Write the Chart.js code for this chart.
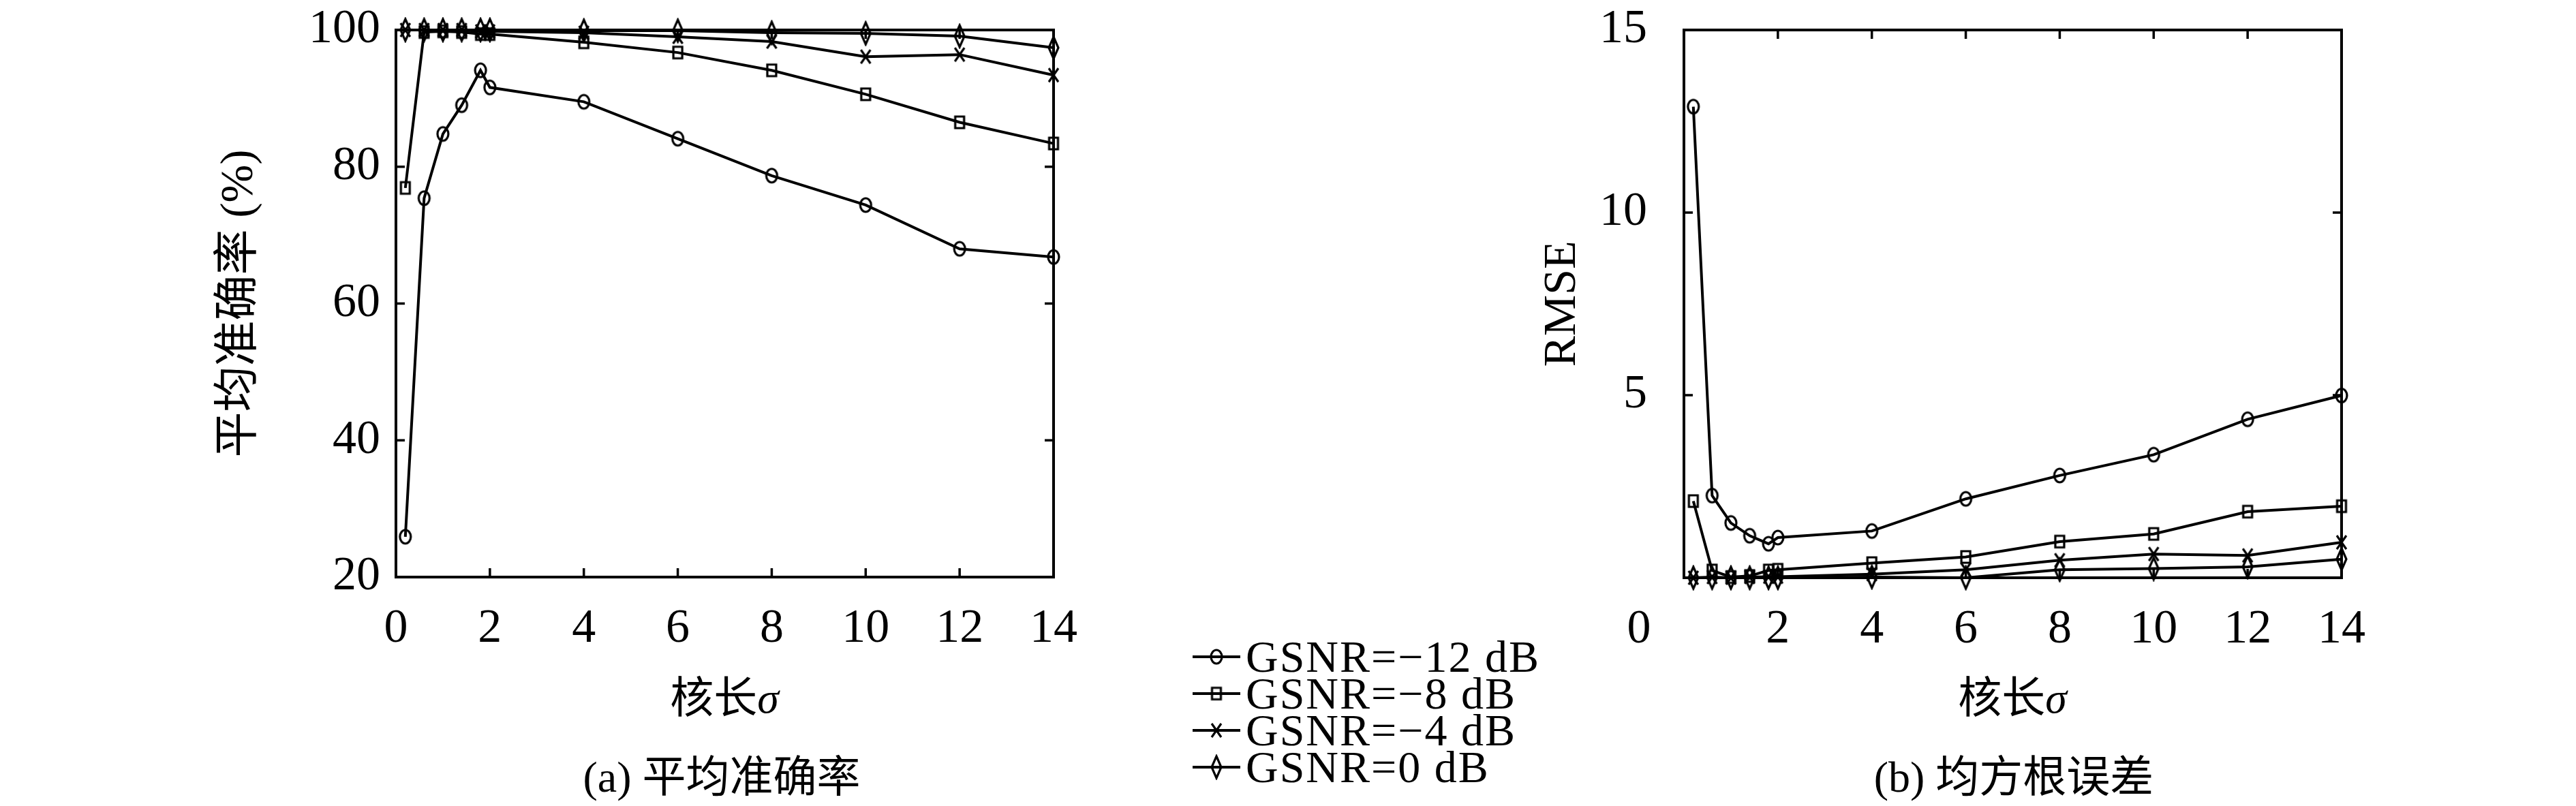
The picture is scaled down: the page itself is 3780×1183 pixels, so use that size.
<!DOCTYPE html>
<html lang="zh">
<head>
<meta charset="utf-8">
<title>核长σ：平均准确率与均方根误差</title>
<script src="https://cdn.jsdelivr.net/npm/chart.js@4.4.1/dist/chart.umd.min.js"></script>
<style>
  html, body { margin: 0; padding: 0; background: #fff; }
  body { width: 3780px; height: 1183px; position: relative; overflow: hidden; }
  canvas.plot { position: absolute; top: 0; }
  #accChart { left: 0; }
  #rmseChart { left: 2240px; }
  .cap { position: absolute; font-family: "Liberation Serif", "Noto Sans CJK SC", serif; font-size: 64px; line-height: 64px; color: #000; white-space: nowrap; transform: translateX(-50%); }
  .cap i { font-family: "Liberation Serif", serif; }
  #legend { position: absolute; left: 1750px; top: 937px; font-family: "Liberation Serif", serif; font-size: 66px; letter-spacing: 2px; color: #000; }
  .row { display: flex; align-items: center; height: 54px; line-height: 54px; white-space: nowrap; }
  .row canvas { margin-right: 8px; }
</style>
</head>
<body>
<canvas id="accChart" class="plot" width="1700" height="960"></canvas>
<canvas id="rmseChart" class="plot" width="1360" height="960"></canvas>
<div class="cap" style="left:1063px; top:993px">核长<i>σ</i></div>
<div class="cap" style="left:1059px; top:1109px">(a) 平均准确率</div>
<div class="cap" style="left:2953px; top:993px">核长<i>σ</i></div>
<div class="cap" style="left:2955px; top:1109px">(b) 均方根误差</div>
<div id="legend"></div>
<script>
// 核长 σ
const sigma = [0.2, 0.6, 1.0, 1.4, 1.8, 2, 4, 6, 8, 10, 12, 14];
const seriesNames = ['GSNR=−12 dB', 'GSNR=−8 dB', 'GSNR=−4 dB', 'GSNR=0 dB'];

// (a) 平均准确率 (%)
const accM12 = [25.9, 75.4, 84.8, 89.0, 94.1, 91.6, 89.5, 84.1, 78.7, 74.4, 68.0, 66.8];
const accM8 = [76.9, 99.7, 99.8, 99.7, 99.4, 99.4, 98.2, 96.7, 94.1, 90.6, 86.5, 83.4];
const accM4 = [100, 100, 100, 100, 99.8, 99.8, 99.6, 99.0, 98.3, 96.1, 96.4, 93.4];
const acc0 = [100, 100, 100, 100, 100, 100, 99.9, 99.9, 99.6, 99.5, 99.1, 97.4];

// (b) 均方根误差
const rmseM12 = [12.9, 2.25, 1.5, 1.15, 0.93, 1.1, 1.28, 2.16, 2.8, 3.37, 4.34, 4.99];
const rmseM8 = [2.1, 0.2, 0.02, 0.05, 0.2, 0.22, 0.4, 0.57, 0.99, 1.2, 1.81, 1.96];
const rmseM4 = [0.0, 0.02, 0.0, 0.02, 0.03, 0.03, 0.1, 0.22, 0.48, 0.65, 0.61, 0.97];
const rmse0 = [0.0, 0.0, 0.0, 0.0, 0.0, 0.0, 0.02, 0.0, 0.22, 0.25, 0.3, 0.51];

// 刻度
const xTicks = [0, 2, 4, 6, 8, 10, 12, 14];
const accTicks = [20, 40, 60, 80, 100];
const rmseTicks = [0, 5, 10, 15];

const serif = '"Liberation Serif", serif';
const mixed = '"Liberation Serif", "Noto Sans CJK SC", serif';
const tickFont = { family: serif, size: 70 };
const tickLen = 13;

// 标记形状 (空心)
function makeMarker(kind) {
    const sizes = { circle: [16, 20], square: [13, 17], cross: [14, 20], diamond: [14, 32] };
    const [w, h] = sizes[kind];
    const c = document.createElement('canvas');
    c.width = w + 6;
    c.height = h + 6;
    const g = c.getContext('2d');
    const cx = c.width / 2, cy = c.height / 2;
    g.strokeStyle = '#000';
    g.lineWidth = 3.2;
    g.beginPath();
    if (kind === 'circle') {
        g.ellipse(cx, cy, w / 2, h / 2, 0, 0, Math.PI * 2);
    } else if (kind === 'square') {
        g.rect(cx - w / 2, cy - h / 2, w, h);
    } else if (kind === 'cross') {
        g.moveTo(cx - w / 2, cy - h / 2); g.lineTo(cx + w / 2, cy + h / 2);
        g.moveTo(cx + w / 2, cy - h / 2); g.lineTo(cx - w / 2, cy + h / 2);
    } else {
        g.moveTo(cx, cy - h / 2); g.lineTo(cx + w / 2, cy);
        g.lineTo(cx, cy + h / 2); g.lineTo(cx - w / 2, cy);
        g.closePath();
    }
    g.stroke();
    return c;
}
const markers = ['circle', 'square', 'cross', 'diamond'].map(makeMarker);

function buildDatasets(seriesList) {
    return seriesList.map((vals, i) => ({
        label: seriesNames[i],
        data: sigma.map((s, j) => ({ x: s, y: vals[j] })),
        borderColor: '#000',
        borderWidth: 4,
        pointStyle: markers[i],
        pointRadius: 10,
        tension: 0,
        fill: false,
        clip: false
    }));
}

// 边框和向内的刻度线
const framePlugin = {
    id: 'frame',
    beforeDatasetsDraw(chart) {
        const { ctx, chartArea: a, scales: { x, y } } = chart;
        ctx.save();
        ctx.strokeStyle = '#000';
        ctx.lineWidth = 4;
        ctx.strokeRect(a.left, a.top, a.right - a.left, a.bottom - a.top);
        ctx.lineWidth = 3.5;
        ctx.beginPath();
        x.ticks.forEach(t => {
            if (t.value <= x.min || t.value >= x.max) return;
            const px = x.getPixelForValue(t.value);
            ctx.moveTo(px, a.bottom); ctx.lineTo(px, a.bottom - tickLen);
            ctx.moveTo(px, a.top); ctx.lineTo(px, a.top + tickLen);
        });
        y.ticks.forEach(t => {
            if (t.value <= y.min || t.value >= y.max) return;
            const py = y.getPixelForValue(t.value);
            ctx.moveTo(a.left, py); ctx.lineTo(a.left + tickLen, py);
            ctx.moveTo(a.right, py); ctx.lineTo(a.right - tickLen, py);
        });
        ctx.stroke();
        ctx.restore();
    }
};

// 右图的 "0" 画在坐标轴左下方
const zeroShift = 66;
const zeroLabelPlugin = {
    id: 'zeroLabel',
    afterDraw(chart) {
        const { ctx, scales: { x } } = chart;
        const lh = tickFont.size * 1.2;
        ctx.save();
        ctx.fillStyle = '#000';
        ctx.font = `${tickFont.size}px ${serif}`;
        ctx.textAlign = 'center';
        ctx.textBaseline = 'middle';
        ctx.fillText('0', x.getPixelForValue(0) - zeroShift, x.top + x.options.ticks.padding + lh / 2);
        ctx.restore();
    }
};

function makeOptions(cfg) {
    return {
        responsive: false,
        animation: false,
        layout: { padding: cfg.padding },
        plugins: { legend: { display: false }, tooltip: { enabled: false } },
        scales: {
            x: {
                type: 'linear', min: 0, max: 14,
                grid: { display: false, drawTicks: false },
                border: { display: false },
                afterBuildTicks: s => { s.ticks = xTicks.map(v => ({ value: v })); },
                afterFit: s => { s.height = cfg.xHeight; },
                ticks: {
                    color: '#000', font: tickFont, padding: 35, maxRotation: 0, autoSkip: false,
                    callback: v => (cfg.hideZero && v === 0) ? '' : v
                }
            },
            y: {
                type: 'linear', min: cfg.yMin, max: cfg.yMax,
                grid: { display: false, drawTicks: false },
                border: { display: false },
                afterBuildTicks: s => { s.ticks = cfg.yTicks.map(v => ({ value: v })); },
                // 固定宽度, 不让刻度文字把绘图区往下挤
                afterFit: s => { s.width = cfg.yWidth; s.paddingTop = 0; s.paddingBottom = 0; },
                ticks: {
                    color: '#000', font: tickFont, padding: cfg.yPad, autoSkip: false,
                    callback: v => (cfg.hideZero && v === 0) ? '' : v
                },
                title: {
                    display: true, text: cfg.yTitle, color: '#000', padding: 0,
                    font: { family: mixed, size: cfg.yTitleSize, lineHeight: 1 }
                }
            }
        }
    };
}

// (a) 平均准确率
new Chart(document.getElementById('accChart'), {
    type: 'line',
    data: { datasets: buildDatasets([accM12, accM8, accM4, acc0]) },
    options: makeOptions({
        padding: { left: 319, right: 154, top: 44, bottom: 0 },
        xHeight: 113, yWidth: 262, yPad: 23,
        yMin: 20, yMax: 100, yTicks: accTicks,
        yTitle: '平均准确率 (%)', yTitleSize: 67, hideZero: false
    }),
    plugins: [framePlugin]
});

// (b) 均方根误差
new Chart(document.getElementById('rmseChart'), {
    type: 'line',
    data: { datasets: buildDatasets([rmseM12, rmseM8, rmseM4, rmse0]) },
    options: makeOptions({
        padding: { left: 19, right: 164, top: 44, bottom: 0 },
        xHeight: 112, yWidth: 212, yPad: 54,
        yMin: 0, yMax: 15, yTicks: rmseTicks,
        yTitle: 'RMSE', yTitleSize: 68, hideZero: true
    }),
    plugins: [framePlugin, zeroLabelPlugin]
});

// 图例 (两图之间)
const legendEl = document.getElementById('legend');
seriesNames.forEach((name, i) => {
    const row = document.createElement('div');
    row.className = 'row';
    const c = document.createElement('canvas');
    c.width = 70;
    c.height = 40;
    const g = c.getContext('2d');
    g.strokeStyle = '#000';
    g.lineWidth = 4;
    g.beginPath();
    g.moveTo(0, 20);
    g.lineTo(70, 20);
    g.stroke();
    g.drawImage(markers[i], 35 - markers[i].width / 2, 20 - markers[i].height / 2);
    const span = document.createElement('span');
    span.textContent = name;
    row.append(c, span);
    legendEl.append(row);
});
</script>
</body>
</html>
